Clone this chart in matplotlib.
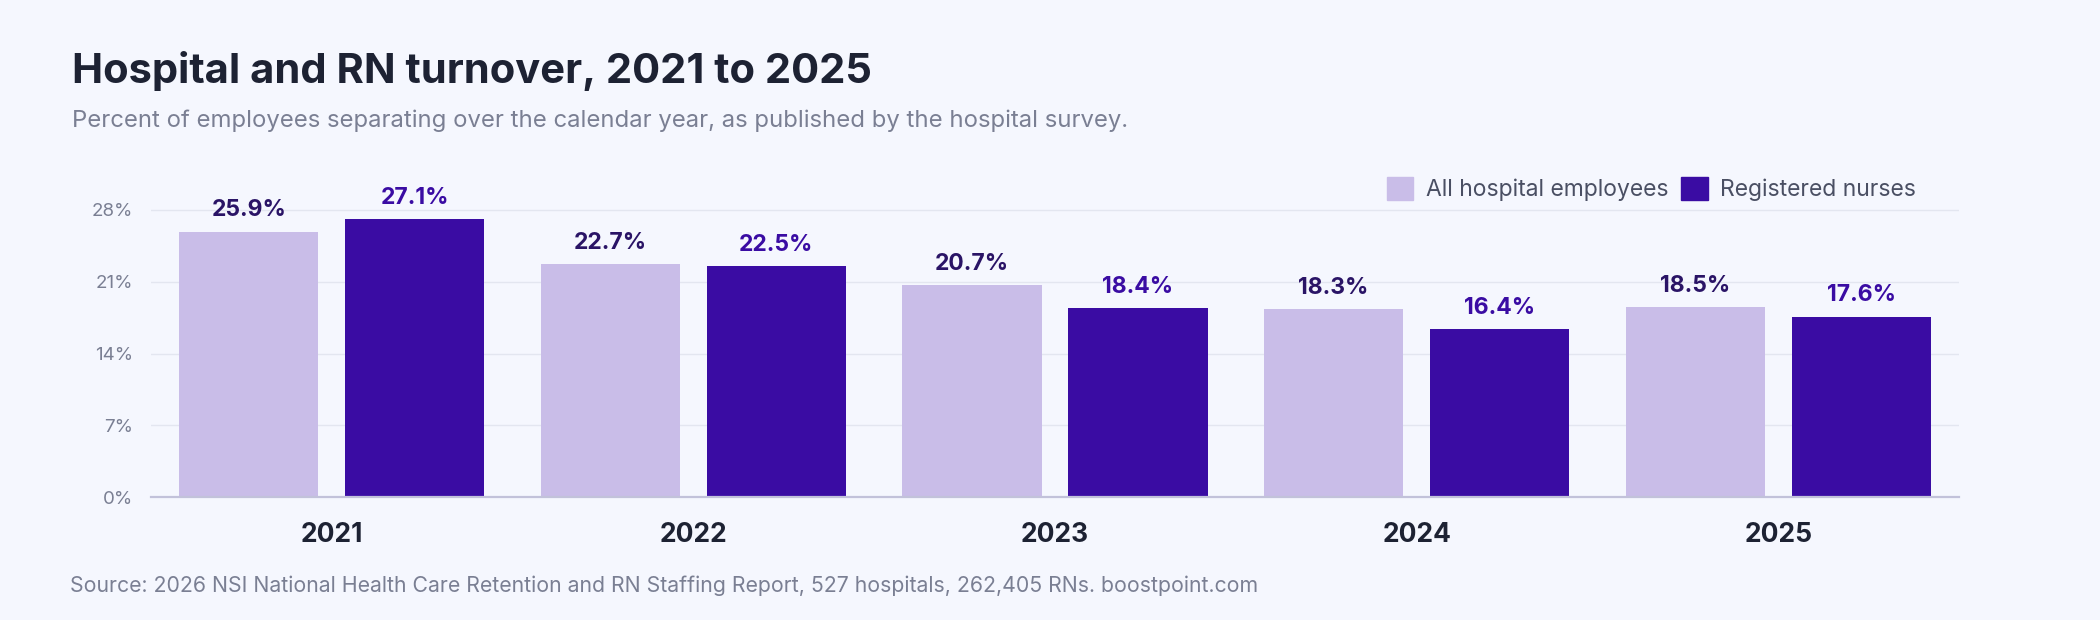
import matplotlib
matplotlib.use("Agg")
import matplotlib.pyplot as plt
from matplotlib.patches import Patch
import numpy as np

# data
years = ["2021", "2022", "2023", "2024", "2025"]
all_employees = [25.9, 22.7, 20.7, 18.3, 18.5]
registered_nurses = [27.1, 22.5, 18.4, 16.4, 17.6]
y_ticks = [0, 7, 14, 21, 28]

BG = "#f5f7fe"
LIGHT = "#c9bde8"
DARK = "#3a0ca3"
LIGHT_TXT = "#2a1466"
GRID = "#e3e6f0"
GRAY = "#7a7f93"
INK = "#1d2233"

plt.rcParams["font.family"] = ["Inter", "DejaVu Sans"]

fig = plt.figure(figsize=(21, 6.2), dpi=100, facecolor=BG)
ax = fig.add_axes([151 / 2100, 123 / 620, 1808 / 2100, 307.5 / 620])
ax.set_facecolor(BG)

x = np.arange(len(years))
w = 0.385
off = w / 2 + 0.037
b1 = ax.bar(x - off, all_employees, w, color=LIGHT, zorder=3)
b2 = ax.bar(x + off, registered_nurses, w, color=DARK, zorder=3)

for bars, vals, col in [(b1, all_employees, LIGHT_TXT), (b2, registered_nurses, DARK)]:
    for r, v in zip(bars, vals):
        ax.annotate(f"{v:.1f}%", (r.get_x() + r.get_width() / 2, v),
                    xytext=(0, 11), textcoords="offset points",
                    ha="center", va="baseline", fontsize=16.5,
                    fontweight="bold", color=col, zorder=4, annotation_clip=False)

ax.set_xlim(-0.5, len(years) - 0.5)
ax.set_ylim(0, 30)
ax.set_yticks(y_ticks)
ax.set_yticklabels([f"{t}%" for t in y_ticks])
ax.set_xticks(x)
ax.set_xticklabels(years)
ax.tick_params(axis="y", length=0, pad=13, labelsize=13.5, labelcolor=GRAY)
ax.tick_params(axis="x", length=0, pad=18, labelsize=19, labelcolor=INK)
for lab in ax.get_xticklabels():
    lab.set_fontweight("bold")

ax.grid(axis="y", color=GRID, linewidth=1.0, zorder=0)
for s in ["top", "right", "left"]:
    ax.spines[s].set_visible(False)
ax.spines["bottom"].set_color("#c2c2da")
ax.spines["bottom"].set_linewidth(1.6)
ax.spines["bottom"].set_zorder(5)

handles = [Patch(color=LIGHT, label="All hospital employees"),
           Patch(color=DARK, label="Registered nurses")]
fig.legend(handles=handles, loc="center right",
           bbox_to_anchor=(1916 / 2100, 1 - 189 / 620),
           ncol=2, frameon=False, fontsize=16.5, labelcolor="#4a4f63",
           handlelength=1.15, handleheight=1.15, handletextpad=0.55,
           columnspacing=0.55, borderpad=0, borderaxespad=0)

fig.text(72 / 2100, 1 - 83 / 620, "Hospital and RN turnover, 2021 to 2025",
         fontsize=30, fontweight="bold", color=INK, va="baseline", ha="left")
fig.text(72 / 2100, 1 - 127 / 620,
         "Percent of employees separating over the calendar year, as published by the hospital survey.",
         fontsize=17.2, color=GRAY, va="baseline", ha="left")
fig.text(70 / 2100, 1 - 592 / 620,
         "Source: 2026 NSI National Health Care Retention and RN Staffing Report, 527 hospitals, 262,405 RNs. boostpoint.com",
         fontsize=15.3, color=GRAY, va="baseline", ha="left")

fig.savefig("out.png", dpi=100, facecolor=BG)
